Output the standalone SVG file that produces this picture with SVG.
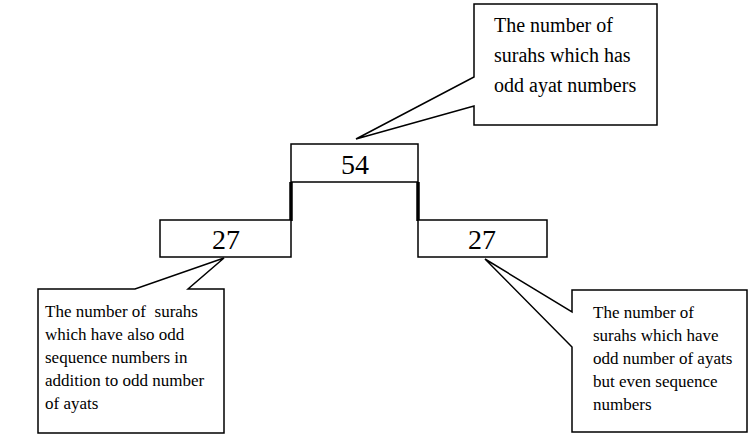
<svg xmlns="http://www.w3.org/2000/svg" width="749" height="435" viewBox="0 0 749 435">
<style>
.box{fill:#fff;stroke:#000;stroke-width:1.5}
.num{font-family:"Liberation Serif","Times New Roman",serif;font-size:28px;text-anchor:middle;fill:#000}
.t1{font-family:"Liberation Serif","Times New Roman",serif;font-size:20px;fill:#000}
.t2{font-family:"Liberation Serif","Times New Roman",serif;font-size:17px;fill:#000}
.conn{fill:none;stroke:#000;stroke-width:3.5}
</style>
<rect width="749" height="435" fill="#fff"/>
<g id="connectors">
<line class="conn" x1="291" y1="182" x2="291" y2="221"/>
<line class="conn" x1="418" y1="182" x2="418" y2="221"/>
</g>
<g id="node-54">
<rect class="box" x="291" y="144" width="127" height="38"/>
<text class="num" x="355" y="174">54</text>
</g>
<g id="node-27-left">
<rect class="box" x="160" y="220" width="131" height="37"/>
<text class="num" x="226" y="249">27</text>
</g>
<g id="node-27-right">
<rect class="box" x="418" y="220" width="129" height="37"/>
<text class="num" x="482" y="249">27</text>
</g>
<g id="callout-top">
<path class="box" d="M474,4 H657 V125 H474 V106 L356,139 L474,77 Z"/>
<text class="t1" x="494" y="32">The number of</text>
<text class="t1" x="494" y="62">surahs which has</text>
<text class="t1" x="494" y="92">odd ayat numbers</text>
</g>
<g id="callout-left">
<path class="box" d="M38,289 H135 L224,258 L188,289 H224 V433 H38 Z"/>
<text class="t2" x="45" y="317" xml:space="preserve">The number of  surahs</text>
<text class="t2" x="45" y="340">which have also odd</text>
<text class="t2" x="45" y="363">sequence numbers in</text>
<text class="t2" x="45" y="386">addition to odd number</text>
<text class="t2" x="45" y="409">of ayats</text>
</g>
<g id="callout-right">
<path class="box" d="M572,290 H747 V432 H572 V347 L485,259 L572,312 Z"/>
<text class="t2" x="593" y="318">The number of</text>
<text class="t2" x="593" y="341">surahs which have</text>
<text class="t2" x="593" y="364">odd number of ayats</text>
<text class="t2" x="593" y="387">but even sequence</text>
<text class="t2" x="593" y="410">numbers</text>
</g>
</svg>
